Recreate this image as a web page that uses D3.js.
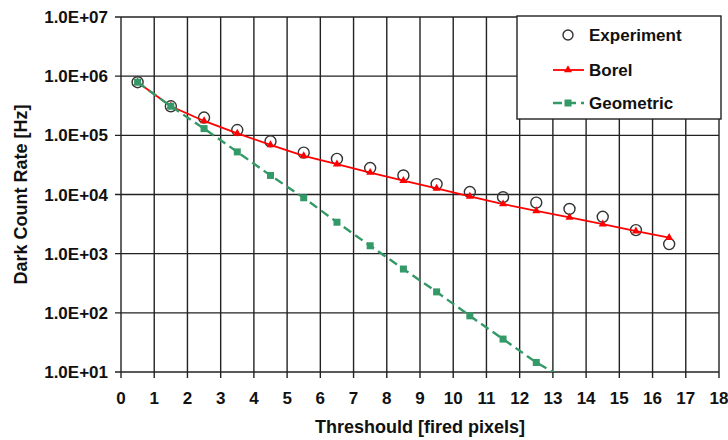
<!DOCTYPE html>
<html>
<head>
<meta charset="utf-8">
<script src="https://cdn.jsdelivr.net/npm/d3@7"></script>
<style>
  body { margin: 0; background: #fff; }
  svg text { font-family: "Liberation Sans", Arial, sans-serif; font-weight: bold; fill: #111; }
</style>
</head>
<body>
<div id="chart"></div>
<script>
// threshold positions (fired pixels)
const thresholds = [0.5, 1.5, 2.5, 3.5, 4.5, 5.5, 6.5, 7.5, 8.5, 9.5, 10.5, 11.5, 12.5, 13.5, 14.5, 15.5, 16.5];

const experiment = [7.9e5, 3.1e5, 2.0e5, 1.23e5, 7.9e4, 5.1e4, 4.0e4, 2.8e4, 2.1e4, 1.5e4, 1.1e4, 9.0e3, 7.3e3, 5.7e3, 4.2e3, 2.5e3, 1.45e3];
const borel = [7.9e5, 3.1e5, 1.75e5, 1.08e5, 6.9e4, 4.5e4, 3.25e4, 2.35e4, 1.72e4, 1.27e4, 9.3e3, 6.9e3, 5.3e3, 4.1e3, 3.15e3, 2.4e3, 1.87e3];
const geometric = [7.9e5, 3.1e5, 1.3e5, 5.25e4, 2.1e4, 8.8e3, 3.4e3, 1.36e3, 5.5e2, 2.26e2, 89, 36, 14.5, 6.9];

const xTicks = d3.range(0, 19);
const yTicks = [1e1, 1e2, 1e3, 1e4, 1e5, 1e6, 1e7];
const legendNames = ["Experiment", "Borel", "Geometric"];

const W = 728, H = 440;
const margin = { top: 17, right: 9, bottom: 68, left: 121 };
const width = W - margin.left - margin.right;
const height = H - margin.top - margin.bottom;

const svg = d3.select("#chart").append("svg")
    .attr("width", W)
    .attr("height", H);

const g = svg.append("g")
    .attr("transform", `translate(${margin.left},${margin.top})`);

const x = d3.scaleLinear().domain([0, 18]).range([0, width]);
const y = d3.scaleLog().domain([1e1, 1e7]).range([height, 0]);

// grid
g.append("g").selectAll("line").data(xTicks).enter().append("line")
    .attr("x1", d => x(d)).attr("x2", d => x(d))
    .attr("y1", 0).attr("y2", height + 6)
    .attr("stroke", "#222").attr("stroke-width", 1.4);
g.append("g").selectAll("line").data(yTicks).enter().append("line")
    .attr("x1", -6).attr("x2", width)
    .attr("y1", d => y(d)).attr("y2", d => y(d))
    .attr("stroke", "#222").attr("stroke-width", 1.4);

// tick labels
g.append("g").selectAll("text").data(yTicks).enter().append("text")
    .attr("x", -13)
    .attr("y", d => y(d))
    .attr("dy", "0.36em")
    .attr("text-anchor", "end")
    .style("font-size", "17px")
    .text(d => "1.0E+" + String(Math.round(Math.log10(d))).padStart(2, "0"));
g.append("g").selectAll("text").data(xTicks).enter().append("text")
    .attr("x", d => x(d))
    .attr("y", height + 32)
    .attr("text-anchor", "middle")
    .style("font-size", "17px")
    .text(d => d);

// axis titles
svg.append("text")
    .attr("transform", `translate(27,${margin.top + height / 2}) rotate(-90)`)
    .attr("text-anchor", "middle")
    .style("font-size", "18px")
    .text("Dark Count Rate [Hz]");
svg.append("text")
    .attr("x", margin.left + width / 2)
    .attr("y", 433)
    .attr("text-anchor", "middle")
    .style("font-size", "18px")
    .text("Threshould [fired pixels]");

// clip to plot area
svg.append("clipPath").attr("id", "plotClip")
    .append("rect").attr("width", width).attr("height", height);
const plot = g.append("g").attr("clip-path", "url(#plotClip)");

const line = d3.line().x(d => x(d[0])).y(d => y(d[1]));
const zip = vals => vals.map((v, i) => [thresholds[i], v]);

// experiment circles
plot.selectAll(".exp").data(zip(experiment)).enter().append("circle")
    .attr("cx", d => x(d[0])).attr("cy", d => y(d[1]))
    .attr("r", 5.5)
    .attr("fill", "none")
    .attr("stroke", "#333")
    .attr("stroke-width", 1.4);

// borel
const red = "#ff0000";
plot.append("path").datum(zip(borel))
    .attr("d", line).attr("fill", "none")
    .attr("stroke", red).attr("stroke-width", 1.8);
plot.selectAll(".bor").data(zip(borel)).enter().append("path")
    .attr("d", d3.symbol(d3.symbolTriangle, 28))
    .attr("transform", d => `translate(${x(d[0])},${y(d[1])})`)
    .attr("fill", red);

// geometric
const green = "#339966";
plot.append("path").datum(zip(geometric))
    .attr("d", line).attr("fill", "none")
    .attr("stroke", green).attr("stroke-width", 2.4)
    .attr("stroke-dasharray", "9,5");
plot.selectAll(".geo").data(zip(geometric)).enter().append("rect")
    .attr("x", d => x(d[0]) - 3.5).attr("y", d => y(d[1]) - 3.5)
    .attr("width", 7).attr("height", 7)
    .attr("fill", green);

// legend
const lg = svg.append("g").attr("transform", "translate(517,16)");
lg.append("rect")
    .attr("width", 204).attr("height", 103)
    .attr("fill", "#fff").attr("stroke", "#222").attr("stroke-width", 1.4);
const rowY = [19, 54, 87];
lg.selectAll("text").data(legendNames).enter().append("text")
    .attr("x", 72)
    .attr("y", (d, i) => rowY[i])
    .attr("dy", "0.36em")
    .style("font-size", "17px")
    .text(d => d);
lg.append("circle").attr("cx", 51).attr("cy", rowY[0]).attr("r", 5)
    .attr("fill", "none").attr("stroke", "#333").attr("stroke-width", 1.4);
lg.append("line").attr("x1", 36).attr("x2", 67).attr("y1", rowY[1]).attr("y2", rowY[1])
    .attr("stroke", red).attr("stroke-width", 1.8);
lg.append("path").attr("d", d3.symbol(d3.symbolTriangle, 28))
    .attr("transform", `translate(51,${rowY[1]})`).attr("fill", red);
lg.append("line").attr("x1", 36).attr("x2", 67).attr("y1", rowY[2]).attr("y2", rowY[2])
    .attr("stroke", green).attr("stroke-width", 2.4).attr("stroke-dasharray", "9,5");
lg.append("rect").attr("x", 47.5).attr("y", rowY[2] - 3.5).attr("width", 7).attr("height", 7)
    .attr("fill", green);
</script>
</body>
</html>
